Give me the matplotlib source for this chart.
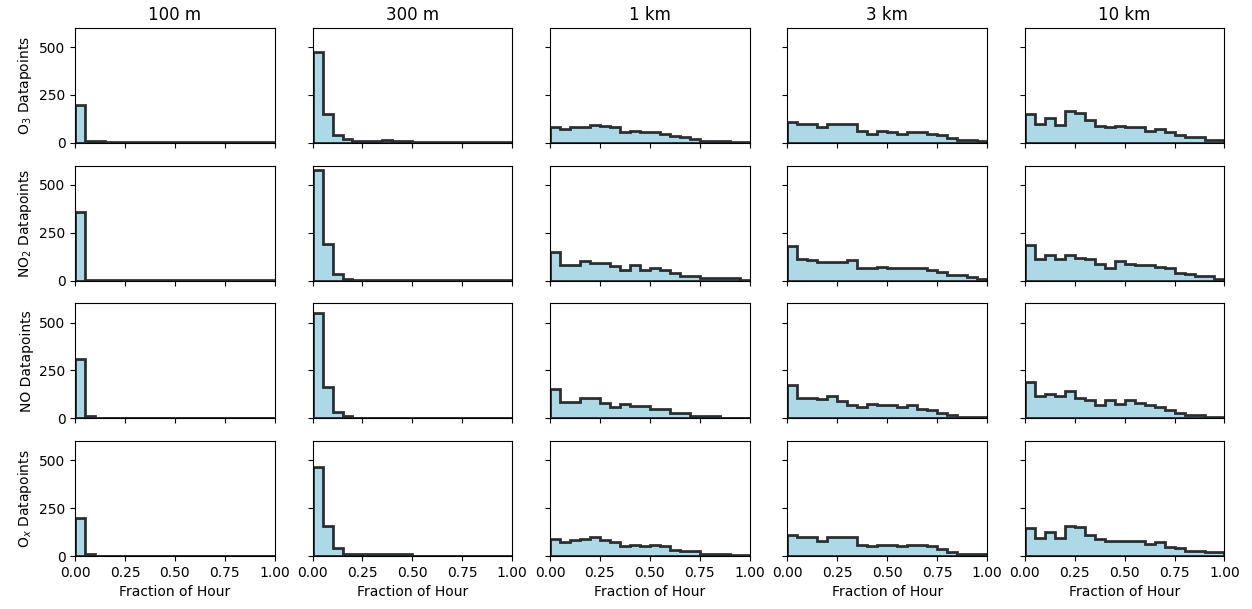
import numpy as np
import matplotlib
matplotlib.use("Agg")
import matplotlib.pyplot as plt

# ------------------- data: counts per 0.05 bin of "fraction of hour" -------------------
bin_edges = np.linspace(0, 1, 21)
distances = ["100 m", "300 m", "1 km", "3 km", "10 km"]
species = ["O$_3$", "NO$_2$", "NO", "O$_x$"]

o3_100m = [200, 10, 10, 3, 2, 2, 2, 2, 2, 2, 2, 2, 2, 2, 2, 2, 2, 2, 2, 2]
o3_300m = [475, 150, 40, 18, 10, 10, 10, 15, 10, 10, 2, 2, 2, 2, 2, 2, 2, 2, 2, 2]
o3_1km = [85, 70, 85, 85, 95, 87, 80, 55, 62, 55, 55, 45, 38, 30, 20, 10, 8, 8, 2, 2]
o3_3km = [108, 100, 100, 80, 98, 98, 98, 64, 48, 64, 55, 48, 55, 55, 48, 39, 27, 16, 16, 7]
o3_10km = [151, 100, 128, 92, 165, 156, 121, 89, 80, 89, 80, 80, 64, 73, 55, 41, 28, 28, 16, 16]

no2_100m = [357, 2, 2, 2, 2, 2, 2, 2, 2, 2, 2, 2, 2, 2, 2, 2, 2, 2, 2, 2]
no2_300m = [580, 191, 36, 9, 2, 2, 2, 2, 2, 2, 2, 2, 2, 2, 2, 2, 2, 2, 2, 2]
no2_1km = [149, 83, 83, 101, 92, 92, 76, 53, 80, 57, 66, 57, 41, 25, 25, 11, 11, 11, 11, 4]
no2_3km = [181, 115, 105, 96, 96, 96, 105, 64, 64, 73, 67, 67, 67, 67, 57, 43, 27, 27, 16, 7]
no2_10km = [186, 115, 135, 115, 135, 119, 110, 87, 67, 103, 87, 80, 80, 73, 64, 41, 32, 25, 25, 9]

no_100m = [310, 11, 2, 2, 2, 2, 2, 2, 2, 2, 2, 2, 2, 2, 2, 2, 2, 2, 2, 2]
no_300m = [550, 165, 35, 12, 2, 2, 2, 2, 2, 2, 2, 2, 2, 2, 2, 2, 2, 2, 2, 2]
no_1km = [154, 87, 87, 106, 106, 80, 57, 73, 66, 66, 51, 51, 27, 27, 11, 11, 11, 4, 4, 4]
no_3km = [172, 108, 108, 99, 115, 89, 71, 57, 74, 67, 67, 59, 67, 51, 43, 27, 16, 7, 7, 7]
no_10km = [190, 119, 126, 119, 144, 105, 96, 71, 96, 76, 96, 80, 71, 57, 41, 27, 18, 18, 9, 9]

ox_100m = [197, 10, 2, 2, 2, 2, 2, 2, 2, 2, 2, 2, 2, 2, 2, 2, 2, 2, 2, 2]
ox_300m = [466, 158, 43, 10, 10, 10, 10, 10, 10, 10, 2, 2, 2, 2, 2, 2, 2, 2, 2, 2]
ox_1km = [90, 73, 82, 90, 99, 82, 73, 50, 59, 50, 59, 50, 34, 27, 27, 11, 11, 11, 5, 5]
ox_3km = [112, 98, 98, 80, 98, 98, 98, 59, 50, 59, 59, 50, 59, 59, 50, 37, 20, 9, 9, 9]
ox_10km = [144, 94, 126, 94, 158, 151, 108, 87, 80, 80, 80, 80, 64, 73, 48, 41, 27, 27, 20, 20]

counts = [
    [o3_100m, o3_300m, o3_1km, o3_3km, o3_10km],
    [no2_100m, no2_300m, no2_1km, no2_3km, no2_10km],
    [no_100m, no_300m, no_1km, no_3km, no_10km],
    [ox_100m, ox_300m, ox_1km, ox_3km, ox_10km],
]

# ------------------- plot -------------------
fig, axes = plt.subplots(4, 5, figsize=(12.52, 6.09), dpi=100, sharex=True, sharey=True)
fig.subplots_adjust(left=0.06, right=0.978, top=0.954, bottom=0.087, wspace=0.19, hspace=0.2)

for i, sp in enumerate(species):
    for j, dist in enumerate(distances):
        ax = axes[i, j]
        ax.hist(bin_edges[:-1], bins=bin_edges, weights=counts[i][j],
                histtype='stepfilled', facecolor='lightblue',
                edgecolor=(0, 0, 0, 0.8), lw=2)
        if i == 0:
            ax.set_title(dist, fontsize=12)
        if j == 0:
            ax.set_ylabel(f'{sp} Datapoints')
        if i == len(species) - 1:
            ax.set_xlabel('Fraction of Hour')

axes[0, 0].set_xlim(0, 1)
axes[0, 0].set_ylim(0, 600)
axes[0, 0].set_xticks([0, 0.25, 0.5, 0.75, 1.0])
axes[0, 0].set_yticks([0, 250, 500])

plt.savefig('out.png', dpi=100)
